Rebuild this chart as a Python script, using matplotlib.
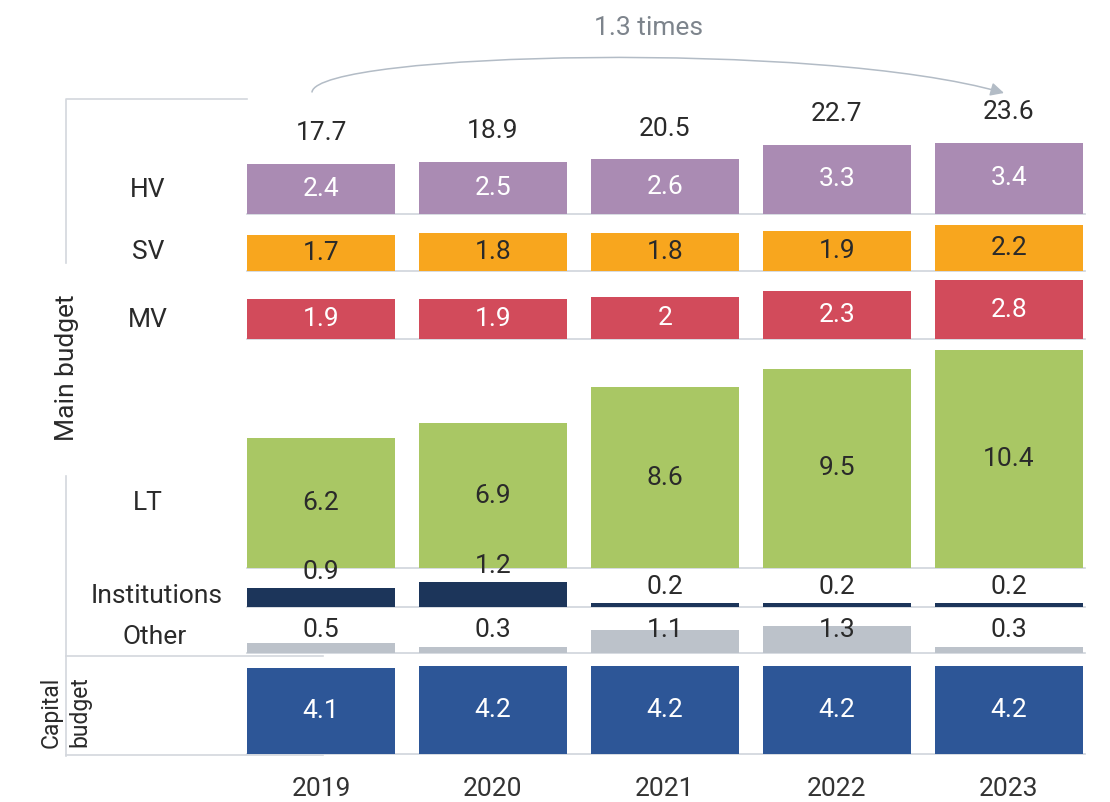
import matplotlib
matplotlib.use("Agg")
import matplotlib.pyplot as plt
from matplotlib.patches import FancyArrowPatch
from matplotlib.path import Path

plt.rcParams["font.family"] = ["Roboto", "DejaVu Sans"]

# ---- data ----
years = ["2019", "2020", "2021", "2022", "2023"]
categories = ["HV", "SV", "MV", "LT", "Institutions", "Other", "Capital budget"]
hv = [2.4, 2.5, 2.6, 3.3, 3.4]
sv = [1.7, 1.8, 1.8, 1.9, 2.2]
mv = [1.9, 1.9, 2.0, 2.3, 2.8]
lt = [6.2, 6.9, 8.6, 9.5, 10.4]
institutions = [0.9, 1.2, 0.2, 0.2, 0.2]
other = [0.5, 0.3, 1.1, 1.3, 0.3]
capital = [4.1, 4.2, 4.2, 4.2, 4.2]
totals = [17.7, 18.9, 20.5, 22.7, 23.6]
growth_label = "1.3 times"

# ---- layout (pixel geometry of the figure) ----
W, H = 1110, 802
X0, STEP = 321, 172          # centre of first column, column spacing
UNIT = 21                    # pixels per unit of value
BAR_W = 148 / STEP


def X(px):
    return (px - X0) / STEP


def Y(py):
    return (H - py) / UNIT


fig = plt.figure(figsize=(W / 100, H / 100), dpi=100)
ax = fig.add_axes([0, 0, 1, 1])
ax.set_xlim(X(0), X(W))
ax.set_ylim(Y(H), Y(0))
ax.axis("off")

TXT = "#2a2a2a"
LINE = "#cfd4db"
FS = 19

xs = list(range(len(years)))

# (series, baseline y in px, colour, label colour, label x px, label y px, label mode)
rows = [
    (hv, 214, "#aa8bb3", "white", 148, 190, "center"),
    (sv, 271, "#f8a61e", TXT, 148, 252, "center"),
    (mv, 339, "#d24b5b", "white", 148, 320, "center"),
    (lt, 568, "#a9c764", TXT, 148, 503, "center"),
    (institutions, 607, "#1c355a", TXT, 157, 596, "above"),
    (other, 653, "#bcc2ca", TXT, 155, 637, "fixed"),
    (capital, 754, "#2d5697", "white", None, None, "center"),
]

for (vals, base_px, col, lcol, lx, ly, mode), name in zip(rows, categories):
    base = Y(base_px)
    ax.plot([X(247), X(1085)], [base, base], color=LINE, lw=1.2, zorder=1)
    ax.bar(xs, vals, width=BAR_W, bottom=base, color=col, zorder=2)
    for x, v in zip(xs, vals):
        if mode == "center":
            ty = base + v / 2
        elif mode == "above":
            ty = base + v + 0.75
        else:
            ty = base + 1.1
        ax.text(x, ty, f"{v:g}", ha="center", va="center", fontsize=FS,
                color=lcol, zorder=3)
    if lx is not None:
        ax.text(X(lx), Y(ly), name, ha="center", va="center", fontsize=FS,
                color=TXT)

# totals above the HV bars
for x, v, t in zip(xs, hv, totals):
    ax.text(x, Y(214) + v + 1.45, f"{t:g}", ha="center", va="center",
            fontsize=FS, color=TXT)

# year labels
for x, yr in zip(xs, years):
    ax.text(x, Y(789), yr, ha="center", va="center", fontsize=FS,
            color="#333333")

# bracket lines on the left
BR = "#d3d7dd"
ax.plot([X(247), X(66), X(66)], [Y(99), Y(99), Y(263)], color=BR, lw=1.2)
ax.plot([X(66), X(66)], [Y(476), Y(756)], color=BR, lw=1.2)
ax.plot([X(66), X(323)], [Y(656), Y(656)], color=BR, lw=1.2)
ax.plot([X(66), X(323)], [Y(755), Y(755)], color=BR, lw=1.2)

ax.text(X(67), Y(368), "Main budget", rotation=90, ha="center", va="center",
        fontsize=FS, color=TXT)
ax.text(X(51), Y(712), "Capital", rotation=90, ha="center", va="center",
        fontsize=16.5, color=TXT)
ax.text(X(80), Y(712), "budget", rotation=90, ha="center", va="center",
        fontsize=16.5, color=TXT)

# growth arrow between first and last total
curve = Path(
    [(X(312), Y(92)), (X(318), Y(52)), (X(820), Y(40)), (X(1004), Y(93))],
    [Path.MOVETO, Path.CURVE4, Path.CURVE4, Path.CURVE4],
)
arrow = FancyArrowPatch(path=curve,
                        arrowstyle="-|>,head_length=8,head_width=4",
                        color="#b3bcc6", lw=1.1, zorder=4)
ax.add_patch(arrow)
ax.text(X(648), Y(28), growth_label, ha="center", va="center", fontsize=FS,
        color="#7d848c")

fig.savefig("out.png", dpi=100)
